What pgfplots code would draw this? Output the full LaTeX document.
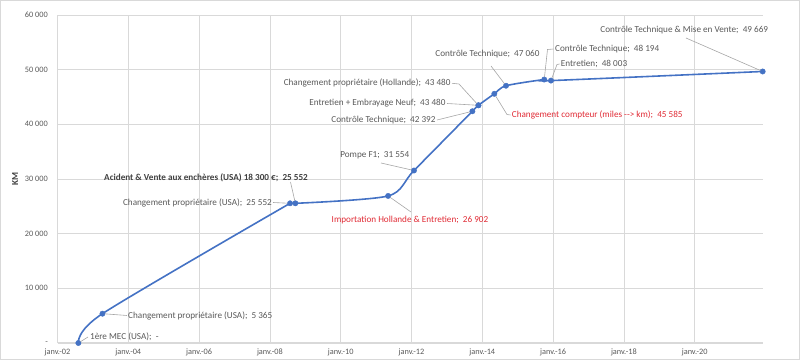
\documentclass[border=0pt]{standalone}
\usepackage{fontspec}
\setmainfont{Carlito}
\usepackage{pgfplots}
\pgfplotsset{compat=1.18}
\usepackage{pgfplotstable}
\definecolor{lineblue}{HTML}{4472C4}
\definecolor{txtgrey}{HTML}{595959}
\definecolor{gridgrey}{HTML}{D9D9D9}
\definecolor{leadgrey}{HTML}{A6A6A6}
\definecolor{lblred}{HTML}{E02B35}
\definecolor{darktxt}{HTML}{404040}

\pgfplotstableread{
year km
2002.59 0
2003.27 5365
2008.57 25552
2008.72 25552
2011.34 26902
2012.07 31554
2013.72 42392
2013.89 43480
2013.89 43480
2014.34 45585
2014.67 47060
2015.75 48194
2015.94 48003
2021.92 49669
}\mileage

\newcommand{\lbl}{\fontsize{9.2}{11}\selectfont}
\begin{document}
\begin{tikzpicture}
\useasboundingbox (0,0) rectangle (800bp,360bp);
\draw[gridgrey, line width=0.75bp] (0.5bp,0.5bp) rectangle (799.5bp,359.5bp);
\begin{axis}[
  at={(57.5bp,17bp)}, anchor=south west, scale only axis,
  width=705.5bp, height=328bp,
  xmin=2002, xmax=2021.93, ymin=0, ymax=60000,
  scaled ticks=false,
  xtick={2002,2004,2006,2008,2010,2012,2014,2016,2018,2020},
  xticklabels={janv.-02,janv.-04,janv.-06,janv.-08,janv.-10,janv.-12,janv.-14,janv.-16,janv.-18,janv.-20},
  ytick={0,10000,20000,30000,40000,50000,60000},
  yticklabels={-\hspace{4.5bp},10 000,20 000,30 000,40 000,50 000,60 000},
  /pgf/number format/assume math mode=true,
  grid=major, major grid style={gridgrey, line width=0.75bp},
  axis x line*=bottom, axis y line*=left,
  x axis line style={gridgrey, line width=1.2bp, -},
  y axis line style={draw=none},
  major tick length=0pt,
  tick label style={font=\fontsize{8.3}{10}\selectfont, text=txtgrey},
  yticklabel style={inner sep=0pt, xshift=-9.5bp},
  xticklabel style={inner sep=0pt, yshift=-5.5bp},
  ylabel={KM},
  ylabel style={font=\fontsize{9.2}{11}\selectfont\bfseries, text=darktxt, at={(axis description cs:-0.0602,0.5)}, anchor=center, rotate=0},
  clip=false,
]
% line pieces (smoothed like the spreadsheet, without overshoot at very close points)
\addplot[lineblue, line width=1.6bp, smooth, tension=0.45, skip coords between index={3}{20}] table[x=year, y=km] {\mileage};
\addplot[lineblue, line width=1.6bp, skip coords between index={0}{2}, skip coords between index={4}{20}] table[x=year, y=km] {\mileage};
\addplot[lineblue, line width=1.6bp, smooth, tension=0.45, skip coords between index={0}{3}, skip coords between index={8}{9}] table[x=year, y=km] {\mileage};
% markers
\addplot[only marks, mark=*, mark size=2.7bp, mark options={fill=lineblue, draw=lineblue}] table[x=year, y=km] {\mileage};
\coordinate (m1) at (axis cs:2002.59,0);
\coordinate (m2) at (axis cs:2003.27,5365);
\coordinate (m3) at (axis cs:2008.57,25552);
\coordinate (m4) at (axis cs:2008.72,25552);
\coordinate (m5) at (axis cs:2011.34,26902);
\coordinate (m6) at (axis cs:2012.07,31554);
\coordinate (m7) at (axis cs:2013.72,42392);
\coordinate (m8) at (axis cs:2013.89,43480);
\coordinate (m10) at (axis cs:2014.34,45585);
\coordinate (m11) at (axis cs:2014.67,47060);
\coordinate (m12) at (axis cs:2015.75,48194);
\coordinate (m13) at (axis cs:2015.94,48003);
\coordinate (m14) at (axis cs:2021.92,49669);
\end{axis}
\begin{scope}[x=1bp, y=-1bp, shift={(0,360bp)}]
  \begin{scope}[leadgrey, line width=0.6bp]
    \draw[shorten <=2.5bp] (m1) -- (88,337);
    \draw[shorten <=2.5bp] (m2) -- (127,315.5);
    \draw[shorten >=2.5bp] (273,202.5) -- (m3);
    \draw[shorten >=2.5bp] (290.5,182) -- (m4);
    \draw[shorten >=2.5bp] (381,163) -- (m6);
    \draw[shorten <=2.5bp] (m5) -- (411,212);
    \draw[shorten >=2.5bp] (452,83.3) -- (459,84) -- (m8);
    \draw[shorten >=2.5bp] (447,103.5) -- (m8);
    \draw[shorten >=2.5bp] (437,120) -- (m7);
    \draw[shorten <=2.5bp] (m10) -- (507,114.5) -- (510.5,115);
    \draw[shorten >=2.5bp] (491,66) -- (m11);
    \draw[shorten <=2.5bp] (m12) -- (547.5,49.5) -- (553.5,49);
    \draw[shorten <=2.5bp] (m13) -- (557,64.5) -- (559.5,64);
    \draw[shorten >=2.5bp] (686,38) -- (m14);
  \end{scope}
  \begin{scope}[every node/.style={inner sep=0pt, font=\lbl, text=txtgrey}]
    \node[anchor=west] at (90,336.7) {1ère MEC (USA);~ -};
    \node[anchor=west] at (128,316) {Changement propriétaire (USA);~ 5~365};
    \node[anchor=east] at (272,202.7) {Changement propriétaire (USA);~ 25~552};
    \node[text=darktxt, font=\lbl\bfseries] at (206,177.7) {Acident \& Vente aux enchères (USA) 18~300~€;~ 25~552};
    \node at (374.8,155) {Pompe F1;~ 31~554};
    \node[text=lblred] at (410,220) {Importation Hollande \& Entretien;~ 26~902};
    \node[anchor=east] at (450.7,83.3) {Changement propriétaire (Hollande);~ 43~480};
    \node[anchor=east] at (445.7,103.3) {Entretien + Embrayage Neuf;~ 43~480};
    \node[anchor=east] at (435.7,120) {Contrôle Technique;~ 42~392};
    \node[anchor=west, text=lblred] at (511.7,115) {Changement compteur (miles -{}-{}> km);~ 45~585};
    \node at (487.5,54.3) {Contrôle Technique;~ 47~060};
    \node[anchor=west] at (555,49) {Contrôle Technique;~ 48~194};
    \node[anchor=west] at (560.7,64) {Entretien;~ 48~003};
    \node[anchor=east] at (768.3,30) {Contrôle Technique \& Mise en Vente;~ 49~669};
  \end{scope}
\end{scope}
\end{tikzpicture}
\end{document}
